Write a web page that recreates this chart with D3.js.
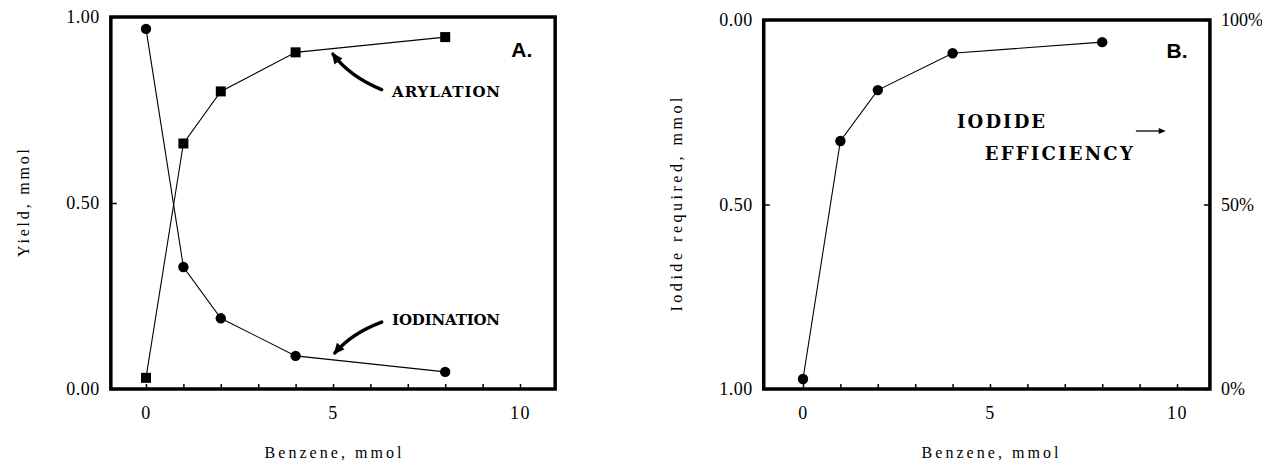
<!DOCTYPE html>
<html>
<head>
<meta charset="utf-8">
<script src="https://cdn.jsdelivr.net/npm/d3@7"></script>
<style>
  body { margin: 0; background: #fff; }
  svg { display: block; }
  .tick text { font-family: "Liberation Serif", serif; fill: #000; }
</style>
</head>
<body>
<div id="chart"></div>
<script>
// data
const benzene = [0, 1, 2, 4, 8];
const iodination = [0.968, 0.328, 0.19, 0.089, 0.046];
const arylation = [0.03, 0.66, 0.80, 0.905, 0.946];
const iodideRequired = [0.973, 0.328, 0.19, 0.09, 0.06];
const xTickLabels = [0, 5, 10];
const yTickLabels = [0, 0.5, 1];
const pctTickLabels = [0, 50, 100];

const width = 1262, height = 464;
const svg = d3.select('#chart').append('svg')
    .attr('width', width)
    .attr('height', height);

const serif = '"Liberation Serif", "Times New Roman", serif';
const wideSerif = '"DejaVu Serif", serif';

function drawFrame(g, x0, x1, y0, y1) {
    g.append('rect')
        .attr('x', x0).attr('y', y0)
        .attr('width', x1 - x0).attr('height', y1 - y0)
        .attr('fill', 'none')
        .attr('stroke', '#000')
        .attr('stroke-width', 3.5);
}

function drawXAxis(g, x, yBottom) {
    // minor inward ticks at each integer
    g.append('g')
        .attr('transform', `translate(0,${yBottom})`)
        .call(d3.axisBottom(x).tickValues(d3.range(0, 11)).tickSize(-5).tickFormat(''))
        .call(a => a.select('.domain').remove())
        .call(a => a.selectAll('line').attr('stroke-width', 1.5));
    g.append('g')
        .attr('transform', `translate(0,${yBottom})`)
        .call(d3.axisBottom(x).tickValues(xTickLabels).tickSize(0).tickPadding(17))
        .call(a => a.select('.domain').remove())
        .call(a => a.selectAll('text').attr('font-size', 18).attr('letter-spacing', 1.5));
}

function drawLine(g, x, y, ys) {
    const line = d3.line()
        .x((d, i) => x(benzene[i]))
        .y(d => y(d));
    g.append('path')
        .attr('d', line(ys))
        .attr('fill', 'none')
        .attr('stroke', '#000')
        .attr('stroke-width', 1.1);
}

function drawCircles(g, x, y, ys) {
    g.selectAll(null).data(ys).enter().append('circle')
        .attr('cx', (d, i) => x(benzene[i]))
        .attr('cy', d => y(d))
        .attr('r', 5.2)
        .attr('fill', '#000');
}

function drawSquares(g, x, y, ys) {
    const s = 10;
    g.selectAll(null).data(ys).enter().append('rect')
        .attr('x', (d, i) => x(benzene[i]) - s / 2)
        .attr('y', d => y(d) - s / 2)
        .attr('width', s).attr('height', s)
        .attr('fill', '#000');
}

function axisTitle(g, text, px, py, rotate, len) {
    g.append('text')
        .attr('transform', `translate(${px},${py})` + (rotate ? ' rotate(-90)' : ''))
        .attr('text-anchor', 'middle')
        .attr('font-family', serif)
        .attr('font-size', 16)
        .attr('textLength', len)
        .attr('lengthAdjust', 'spacing')
        .text(text);
}

function label(g, text, px, py, size, len) {
    g.append('text')
        .attr('x', px).attr('y', py)
        .attr('font-family', wideSerif)
        .attr('font-weight', 'bold')
        .attr('font-size', size)
        .attr('textLength', len)
        .attr('lengthAdjust', 'spacing')
        .text(text);
}

// curved thick arrow, tail -> tip (pixel coords from the scales)
function curvedArrow(g, tail, ctrl, tip) {
    g.append('path')
        .attr('d', `M${tail[0]},${tail[1]} Q${ctrl[0]},${ctrl[1]} ${tip[0]},${tip[1]}`)
        .attr('fill', 'none')
        .attr('stroke', '#000')
        .attr('stroke-width', 3.5)
        .attr('stroke-linecap', 'round');
    const ang = Math.atan2(tip[1] - ctrl[1], tip[0] - ctrl[0]);
    const L = 11, W = 5;
    const bx = tip[0] + 2 * Math.cos(ang), by = tip[1] + 2 * Math.sin(ang);
    const p1 = [bx - L * Math.cos(ang) + W * Math.sin(ang), by - L * Math.sin(ang) - W * Math.cos(ang)];
    const p2 = [bx - L * Math.cos(ang) - W * Math.sin(ang), by - L * Math.sin(ang) + W * Math.cos(ang)];
    g.append('path')
        .attr('d', `M${bx},${by} L${p1[0]},${p1[1]} L${p2[0]},${p2[1]} Z`)
        .attr('fill', '#000');
}

// ---- Panel A ----
const gA = svg.append('g');
const xA = d3.scaleLinear().domain([0, 10]).range([146, 520]);
const yA = d3.scaleLinear().domain([0, 1]).range([389, 17]);

drawFrame(gA, xA(-0.94), xA(10.94), yA(1), yA(0));
drawXAxis(gA, xA, yA(0));

gA.append('g')
    .attr('transform', `translate(${xA(-0.94)},0)`)
    .call(d3.axisLeft(yA).tickValues(yTickLabels).tickSize(-6).tickPadding(11).tickFormat(d3.format('.2f')))
    .call(a => a.select('.domain').remove())
    .call(a => a.selectAll('line').attr('stroke-width', 1.5))
    .call(a => a.selectAll('text').attr('font-size', 18).attr('letter-spacing', 0.5));

drawLine(gA, xA, yA, arylation);
drawLine(gA, xA, yA, iodination);
drawSquares(gA, xA, yA, arylation);
drawCircles(gA, xA, yA, iodination);

axisTitle(gA, 'Yield, mmol', 29, yA(0.5), true, 108);
axisTitle(gA, 'Benzene, mmol', xA(5), 458, false, 137);

gA.append('text')
    .attr('x', xA(10.05)).attr('y', 57)
    .attr('text-anchor', 'middle')
    .attr('font-family', '"Liberation Sans", Arial, sans-serif')
    .attr('font-weight', 'bold')
    .attr('font-size', 21)
    .text('A.');

label(gA, 'ARYLATION', xA(6.58), yA(0.785), 15, 108);
label(gA, 'IODINATION', xA(6.58), yA(0.172), 15, 108);

curvedArrow(gA, [xA(6.3), yA(0.805)], [xA(5.45), yA(0.84)], [xA(5.0), yA(0.9)]);
curvedArrow(gA, [xA(6.3), yA(0.18)], [xA(5.5), yA(0.15)], [xA(5.05), yA(0.097)]);

// ---- Panel B ----
const gB = svg.append('g');
const xB = d3.scaleLinear().domain([0, 10]).range([803, 1177]);
const yB = d3.scaleLinear().domain([0, 1]).range([20, 389]);
const pB = d3.scaleLinear().domain([0, 100]).range([389, 20]);

drawFrame(gB, xB(-1.05), xB(10.88), yB(0), yB(1));
drawXAxis(gB, xB, yB(1));

gB.append('g')
    .attr('transform', `translate(${xB(-1.05)},0)`)
    .call(d3.axisLeft(yB).tickValues(yTickLabels).tickSize(-6).tickPadding(11).tickFormat(d3.format('.2f')))
    .call(a => a.select('.domain').remove())
    .call(a => a.selectAll('line').attr('stroke-width', 1.5))
    .call(a => a.selectAll('text').attr('font-size', 18).attr('letter-spacing', 0.5));

gB.append('g')
    .attr('transform', `translate(${xB(10.88)},0)`)
    .call(d3.axisRight(pB).tickValues(pctTickLabels).tickSize(-6).tickPadding(11).tickFormat(d => d + '%'))
    .call(a => a.select('.domain').remove())
    .call(a => a.selectAll('line').attr('stroke-width', 1.5))
    .call(a => a.selectAll('text').attr('font-size', 18));

drawLine(gB, xB, yB, iodideRequired);
drawCircles(gB, xB, yB, iodideRequired);

axisTitle(gB, 'Iodide required, mmol', 682, yB(0.5), true, 214);
axisTitle(gB, 'Benzene, mmol', xB(5), 458, false, 137);

gB.append('text')
    .attr('x', xB(10.0)).attr('y', 58)
    .attr('text-anchor', 'middle')
    .attr('font-family', '"Liberation Sans", Arial, sans-serif')
    .attr('font-weight', 'bold')
    .attr('font-size', 21)
    .text('B.');

label(gB, 'IODIDE', xB(4.12), 128, 18, 88);
label(gB, 'EFFICIENCY', xB(4.86), 160, 18, 148);

// small straight arrow towards the right-hand axis
gB.append('line')
    .attr('x1', xB(8.9)).attr('x2', xB(9.55))
    .attr('y1', 131).attr('y2', 131)
    .attr('stroke', '#000').attr('stroke-width', 1.3);
gB.append('path')
    .attr('d', `M${xB(9.7)},131 l-7,-3 l0,6 Z`)
    .attr('fill', '#000');
</script>
</body>
</html>
